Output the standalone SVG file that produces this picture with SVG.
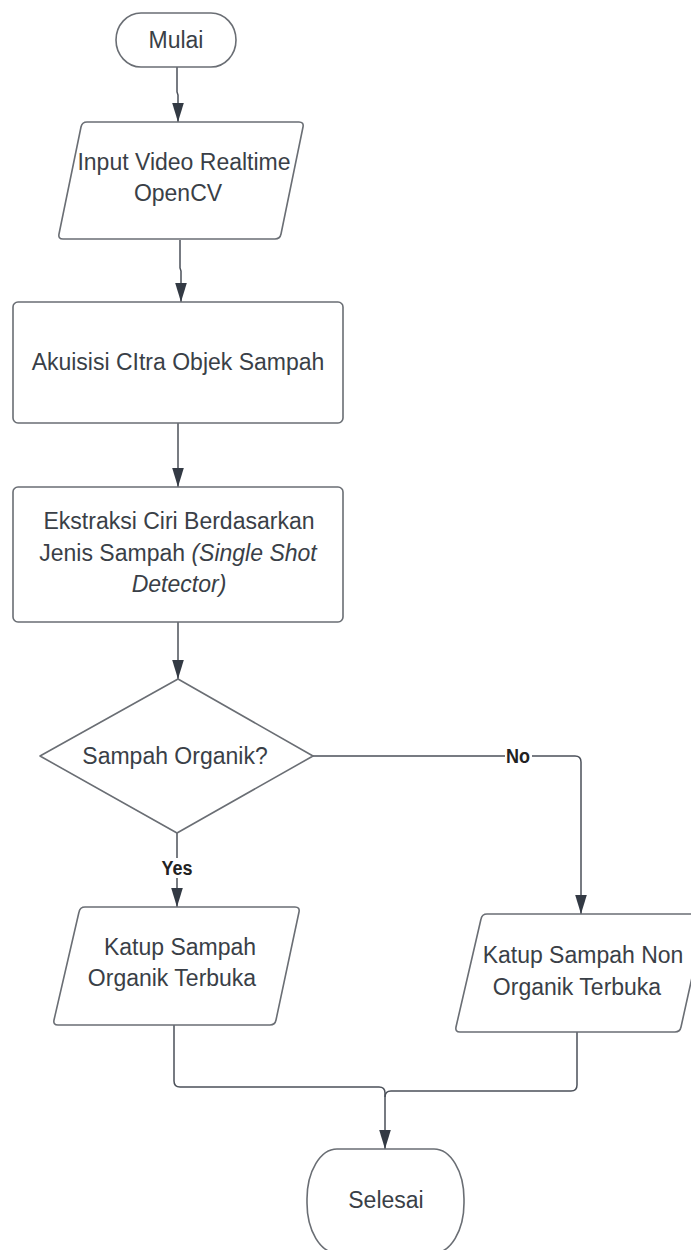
<svg xmlns="http://www.w3.org/2000/svg" width="691" height="1250" viewBox="0 0 691 1250">
<defs>
<marker id="ah" markerUnits="userSpaceOnUse" markerWidth="19" markerHeight="12" viewBox="0 0 18 11" refX="18" refY="5.5" orient="auto">
<path d="M0,0 L18,5.5 L0,11 Z" fill="#333a44"/>
</marker>
<style>
.node{fill:#ffffff;stroke:#6a6e74;stroke-width:1.6;stroke-linejoin:round}
.t{font-family:"Liberation Sans",Arial,sans-serif;font-size:23px;fill:#3a3f47;text-anchor:middle}
.lbl{font-family:"Liberation Sans",Arial,sans-serif;font-size:20px;font-weight:bold;fill:#222;text-anchor:middle}
.c{fill:none;stroke:#4b5059;stroke-width:1.5}
</style>
</defs>
<rect width="691" height="1250" fill="#ffffff"/>
<g id="connectors">
<path class="c" d="M177,67 V92 L178,95 V122" marker-end="url(#ah)"/>
<path class="c" d="M180,240 V268 L181,271 V302" marker-end="url(#ah)"/>
<path class="c" d="M178,423 V487" marker-end="url(#ah)"/>
<path class="c" d="M178,622 V679" marker-end="url(#ah)"/>
<path class="c" d="M177,833 V907" marker-end="url(#ah)"/>
<path class="c" d="M313,756 H575 Q581,756 581,762 V914" marker-end="url(#ah)"/>
<path class="c" d="M174,1025 V1081 Q174,1087 180,1087 H379 Q385,1087 385,1093 V1149" marker-end="url(#ah)"/>
<path class="c" d="M577,1032 V1085 Q577,1091 571,1091 H391 Q385,1091 385,1097"/>
<rect x="160" y="858" width="34" height="20" fill="#ffffff"/>
<text class="lbl" x="177" y="875" textLength="31" lengthAdjust="spacingAndGlyphs">Yes</text>
<rect x="505" y="746" width="27" height="20" fill="#ffffff"/>
<text class="lbl" x="518" y="763" textLength="24" lengthAdjust="spacingAndGlyphs">No</text>
</g>
<g id="mulai">
<rect class="node" x="116" y="13" width="120" height="54" rx="25" ry="27"/>
<text class="t" x="176" y="48">Mulai</text>
</g>
<g id="input">
<path class="node" d="M87,122 H299 Q304,122 303,127 L281,234 Q280,239 275,239 H63 Q58,239 59,234 L81,127 Q82,122 87,122 Z"/>
<text class="t" x="184" y="170">Input Video Realtime</text>
<text class="t" x="178" y="201">OpenCV</text>
</g>
<g id="akuisisi">
<rect class="node" x="13" y="302" width="330" height="121" rx="5"/>
<text class="t" x="178" y="370">Akuisisi CItra Objek Sampah</text>
</g>
<g id="ekstraksi">
<rect class="node" x="13" y="487" width="330" height="135" rx="5"/>
<text class="t" x="179" y="529">Ekstraksi Ciri Berdasarkan</text>
<text class="t" x="178" y="561">Jenis Sampah <tspan font-style="italic">(Single Shot</tspan></text>
<text class="t" x="179" y="592" font-style="italic">Detector)</text>
</g>
<g id="decision">
<path class="node" d="M178,679 L313,756 L177,833 L40,756 Z"/>
<text class="t" x="175" y="764">Sampah Organik?</text>
</g>
<g id="katup-organik">
<path class="node" d="M85,907 H295 Q300,907 299,912 L276,1020 Q275,1025 270,1025 H58 Q53,1025 54,1020 L79,912 Q80,907 85,907 Z"/>
<text class="t" x="180" y="955">Katup Sampah</text>
<text class="t" x="172" y="986">Organik Terbuka</text>
</g>
<g id="katup-nonorganik">
<path class="node" d="M487,914 H701 Q706,914 705,919 L681,1027 Q680,1032 675,1032 H460 Q455,1032 456,1027 L481,919 Q482,914 487,914 Z"/>
<text class="t" x="583" y="963">Katup Sampah Non</text>
<text class="t" x="577" y="995">Organik Terbuka</text>
</g>
<g id="selesai">
<rect class="node" x="307" y="1149" width="157" height="104" rx="30" ry="50"/>
<text class="t" x="386" y="1208">Selesai</text>
</g>
</svg>
